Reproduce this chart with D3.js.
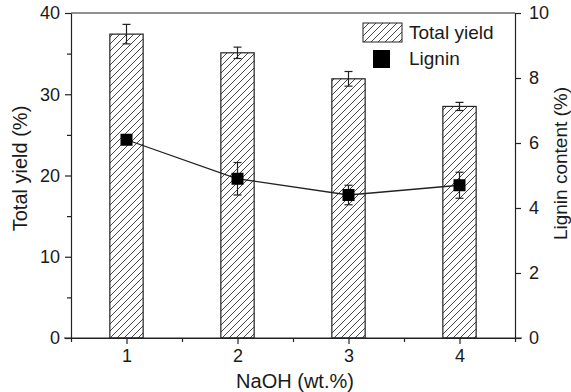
<!DOCTYPE html>
<html><head><meta charset="utf-8">
<script src="https://cdn.jsdelivr.net/npm/d3@7"></script>
<style>body{margin:0;background:#fff}svg{display:block}text{font-family:"Liberation Sans",Arial,sans-serif;fill:#1a1a1a}</style>
</head><body><svg id="c" width="571" height="392"></svg>
<script>
const naoh = [1, 2, 3, 4];
const totalYield = [37.4, 35.1, 31.9, 28.5];
const yieldErr = [1.2, 0.7, 0.9, 0.5];
const lignin = [6.1, 4.9, 4.4, 4.7];
const ligninErr = [0.1, 0.5, 0.3, 0.4];
const xTicks = [1, 2, 3, 4];
const yLeftTicks = [0, 10, 20, 30, 40];
const yRightTicks = [0, 2, 4, 6, 8, 10];

const svg = d3.select("#c");
const L = 71, R = 515, T = 13, B = 338;
const x = d3.scaleLinear().domain([0.5, 4.5]).range([L, R]);
const yL = d3.scaleLinear().domain([0, 40]).range([B, T]);
const yR = d3.scaleLinear().domain([0, 10]).range([B, T]);
const ink = "#222";

const defs = svg.append("defs");
const pat = defs.append("pattern").attr("id", "hatch").attr("patternUnits", "userSpaceOnUse")
  .attr("width", 7).attr("height", 7);
pat.append("path").attr("d", "M-1,1 l2,-2 M0,7 l7,-7 M6,8 l2,-2").attr("stroke", "#333").attr("stroke-width", 0.9);

// frame
svg.append("line").attr("x1", L).attr("x2", R).attr("y1", T).attr("y2", T).attr("stroke", ink).attr("stroke-width", 1.2);

// bars
const bw = x(1.15) - x(0.85);
svg.selectAll(".bar").data(naoh).join("rect")
  .attr("x", (d) => x(d) - bw / 2).attr("width", bw)
  .attr("y", (d, i) => yL(totalYield[i])).attr("height", (d, i) => B - yL(totalYield[i]))
  .attr("fill", "url(#hatch)").attr("stroke", ink).attr("stroke-width", 1.2);

// yield error bars
naoh.forEach((d, i) => {
  const g = svg.append("g").attr("stroke", ink).attr("stroke-width", 1.2);
  const cx = x(d), t = yL(totalYield[i] + yieldErr[i]), b = yL(totalYield[i] - yieldErr[i]);
  g.append("line").attr("x1", cx).attr("x2", cx).attr("y1", t).attr("y2", b);
  g.append("line").attr("x1", cx - 4).attr("x2", cx + 4).attr("y1", t).attr("y2", t);
  g.append("line").attr("x1", cx - 4).attr("x2", cx + 4).attr("y1", b).attr("y2", b);
});

// lignin line
svg.append("path").datum(naoh)
  .attr("d", d3.line().x((d) => x(d)).y((d, i) => yR(lignin[i])))
  .attr("fill", "none").attr("stroke", ink).attr("stroke-width", 1.3);
naoh.forEach((d, i) => {
  const g = svg.append("g").attr("stroke", ink).attr("stroke-width", 1.2);
  const cx = x(d), t = yR(lignin[i] + ligninErr[i]), b = yR(lignin[i] - ligninErr[i]);
  g.append("line").attr("x1", cx).attr("x2", cx).attr("y1", t).attr("y2", b);
  g.append("line").attr("x1", cx - 4).attr("x2", cx + 4).attr("y1", t).attr("y2", t);
  g.append("line").attr("x1", cx - 4).attr("x2", cx + 4).attr("y1", b).attr("y2", b);
});
svg.selectAll(".pt").data(naoh).join("rect")
  .attr("x", (d) => x(d) - 6).attr("y", (d, i) => yR(lignin[i]) - 6)
  .attr("width", 12).attr("height", 12).attr("fill", "#000");

// axes
function styleAxis(g) {
  g.selectAll("path").attr("stroke", ink).attr("stroke-width", 1.2);
  g.selectAll("line").attr("stroke", ink).attr("stroke-width", 1.2);
  g.selectAll("text").attr("font-size", 18).attr("fill", "#1a1a1a").attr("font-family", '"Liberation Sans", Arial, sans-serif');
}
// left minor
svg.append("g").attr("transform", `translate(${L},0)`)
  .call(d3.axisLeft(yL).tickValues([5, 15, 25, 35]).tickSize(4).tickFormat("").tickSizeOuter(0))
  .call(styleAxis).select("path").remove();
svg.append("g").attr("transform", `translate(${L},0)`)
  .call(d3.axisLeft(yL).tickValues(yLeftTicks).tickSize(6).tickPadding(5).tickSizeOuter(0))
  .call(styleAxis);
// right
svg.append("g").attr("transform", `translate(${R},0)`)
  .call(d3.axisRight(yR).tickValues(yRightTicks).tickSize(6).tickPadding(8).tickSizeOuter(0))
  .call(styleAxis);
// bottom
svg.append("g").attr("transform", `translate(0,${B})`)
  .call(d3.axisBottom(x).tickValues([0.5, 1.5, 2.5, 3.5, 4.5]).tickSize(4).tickFormat("").tickSizeOuter(0))
  .call(styleAxis).select("path").remove();
svg.append("g").attr("transform", `translate(0,${B})`)
  .call(d3.axisBottom(x).tickValues(xTicks).tickSize(6).tickPadding(5).tickSizeOuter(0).tickFormat(d3.format("d")))
  .call(styleAxis);
// extended baseline
svg.append("line").attr("x1", L - 7).attr("x2", R + 7).attr("y1", B).attr("y2", B).attr("stroke", ink).attr("stroke-width", 1.2);

// titles
svg.append("text").attr("x", (L + R) / 2 + 2).attr("y", 388).attr("text-anchor", "middle").attr("font-size", 20).text("NaOH (wt.%)");
svg.append("text").attr("transform", `translate(27,${(T + B) / 2 - 7}) rotate(-90)`).attr("text-anchor", "middle").attr("font-size", 20).text("Total yield (%)");
svg.append("text").attr("transform", `translate(567,${(T + B) / 2 - 12}) rotate(-90)`).attr("text-anchor", "middle").attr("font-size", 19).text("Lignin content (%)");

// legend
const lg = svg.append("g");
lg.append("rect").attr("x", 363).attr("y", 23).attr("width", 39).attr("height", 19).attr("fill", "url(#hatch)").attr("stroke", ink).attr("stroke-width", 1);
lg.append("text").attr("x", 409).attr("y", 39).attr("font-size", 19).text("Total yield");
lg.append("rect").attr("x", 373).attr("y", 50).attr("width", 17).attr("height", 18).attr("fill", "#000");
lg.append("text").attr("x", 409).attr("y", 65).attr("font-size", 19).text("Lignin");
</script></body></html>
